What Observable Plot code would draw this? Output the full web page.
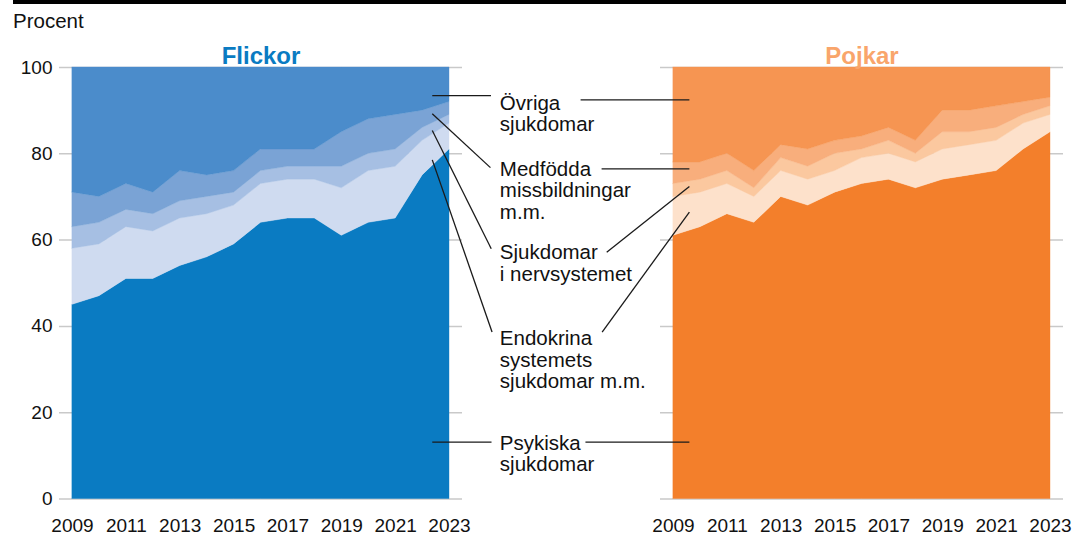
<!DOCTYPE html>
<html><head><meta charset="utf-8">
<script src="https://cdn.jsdelivr.net/npm/d3@7"></script>
<script src="https://cdn.jsdelivr.net/npm/@observablehq/plot@0.6"></script>
<style>
body{margin:0;background:#fff;font-family:"Liberation Sans",Arial,sans-serif;}
#wrap{position:relative;width:1075px;height:550px;overflow:hidden;}
#bar{position:absolute;left:13px;top:0;width:1053px;height:4px;background:#000;}
#unit{position:absolute;left:13px;top:9px;font-size:20.5px;color:#111;line-height:24px;}
#chart{position:absolute;left:0;top:0;}
</style></head><body>
<div id="wrap"><div id="chart"></div><div id="bar"></div><div id="unit">Procent</div></div>
<script>
const years = [2009,2010,2011,2012,2013,2014,2015,2016,2017,2018,2019,2020,2021,2022,2023];
const groups = ["Flickor","Pojkar"];
const causes = ["Psykiska sjukdomar","Endokrina systemets sjukdomar m.m.","Sjukdomar i nervsystemet","Medfödda missbildningar m.m.","Övriga sjukdomar"];

// Flickor (procent per diagnosgrupp)
const flickorPsykiska  = [45,47,51,51,54,56,59,64,65,65,61,64,65,75,81];
const flickorEndokrina = [13,12,12,11,11,10, 9, 9, 9, 9,11,12,12, 8, 6];
const flickorNerv      = [ 5, 5, 4, 4, 4, 4, 3, 3, 3, 3, 5, 4, 4, 3, 2];
const flickorMedfodda  = [ 8, 6, 6, 5, 7, 5, 5, 5, 4, 4, 8, 8, 8, 4, 3];
const flickorOvriga    = [29,30,27,29,24,25,24,19,19,19,15,12,11,10, 8];
// Pojkar
const pojkarPsykiska   = [61,63,66,64,70,68,71,73,74,72,74,75,76,81,85];
const pojkarEndokrina  = [ 9, 8, 7, 6, 6, 6, 5, 6, 6, 6, 7, 7, 7, 6, 4];
const pojkarNerv       = [ 3, 3, 3, 2, 3, 3, 4, 2, 3, 2, 4, 3, 3, 2, 2];
const pojkarMedfodda   = [ 5, 4, 4, 4, 3, 4, 3, 3, 3, 3, 5, 5, 5, 3, 2];
const pojkarOvriga     = [22,22,20,24,18,19,17,16,14,17,10,10, 9, 8, 7];

const yTicks = [0,20,40,60,80,100];
const xTicks = [2009,2011,2013,2015,2017,2019,2021,2023];

const flickorColors = ["#0a7bc2","#cfdbf0","#a6bfe3","#7aa3d5","#4b8ccb"];
const pojkarColors  = ["#f37f2b","#fde1cb","#fbc89f","#f8ae7c","#f69552"];

// Label texts and leader lines (in data units: year, percent)
const labelTexts = ["Övriga\nsjukdomar","Medfödda\nmissbildningar\nm.m.","Sjukdomar\ni nervsystemet","Endokrina\nsystemets\nsjukdomar m.m.","Psykiska\nsjukdomar"];
const labelX = 2024.87;
const labelTop = [93.7, 78.45, 59.1, 39.2, 15.0];
const flickorLeaderFrom = [[2022.36,93.5],[2022.36,89.3],[2022.36,85.4],[2022.36,78.6],[2022.36,13.2]];
const flickorLeaderTo   = [[2024.54,93.5],[2024.52,76.8],[2024.55,58.0],[2024.58,38.7],[2024.56,13.2]];
const pojkarLeaderFrom  = [[2005.55,92.5],[2006.33,76.5],[2006.52,57.2],[2006.35,38.7],[2005.73,13.2]];
const pojkarLeaderTo    = [[2009.59,92.5],[2009.59,76.5],[2009.59,72.4],[2009.59,66.5],[2009.59,13.2]];

const seriesBy = {
  Flickor: [flickorPsykiska, flickorEndokrina, flickorNerv, flickorMedfodda, flickorOvriga],
  Pojkar: [pojkarPsykiska, pojkarEndokrina, pojkarNerv, pojkarMedfodda, pojkarOvriga]
};
const rows = [];
for (const g of groups) causes.forEach((c, i) => years.forEach((y, j) => rows.push({group: g, cause: c, key: g + "|" + c, year: y, value: seriesBy[g][i][j]})));

const colorDomain = [...causes.map(c => "Flickor|" + c), ...causes.map(c => "Pojkar|" + c)];
const colorRange = [...flickorColors, ...pojkarColors];

const leaders = [];
flickorLeaderFrom.forEach((p, i) => leaders.push({group: "Flickor", x1: p[0], y1: p[1], x2: flickorLeaderTo[i][0], y2: flickorLeaderTo[i][1]}));
pojkarLeaderFrom.forEach((p, i) => leaders.push({group: "Pojkar", x1: p[0], y1: p[1], x2: pojkarLeaderTo[i][0], y2: pojkarLeaderTo[i][1]}));
const labels = labelTexts.map((t, i) => ({group: "Flickor", text: t, x: labelX, y: labelTop[i]}));

const chart = Plot.plot({
  width: 1075, height: 550,
  marginLeft: 59, marginRight: 12, marginTop: 67, marginBottom: 51.5,
  style: {fontFamily: "'Liberation Sans', Arial, sans-serif", color: "#111", background: "transparent"},
  fx: {domain: groups, axis: null, paddingInner: 0.3295, paddingOuter: 0, label: null},
  x: {domain: [2009, 2023], inset: 13, label: null},
  y: {domain: [0, 100], label: null},
  color: {type: "ordinal", domain: colorDomain, range: colorRange},
  marks: [
    Plot.gridY(yTicks, {stroke: "#c9c9c9", strokeOpacity: 1, strokeWidth: 1.5}),
    Plot.areaY(rows, {x: "year", y: "value", z: "cause", fill: "key", stroke: "key", strokeWidth: 0.4, fx: "group", order: causes}),
    Plot.axisY(yTicks, {tickSize: 0, tickPadding: 7, fontSize: 19, label: null}),
    Plot.axisX(xTicks, {tickSize: 0, tickPadding: 19, fontSize: 19, tickFormat: d => String(d), label: null}),
    Plot.text(["Flickor"], {fx: d => d, text: d => d, frameAnchor: "top", dy: -21, fill: "#0a7bc2", fontWeight: "bold", fontSize: 24}),
    Plot.text(["Pojkar"], {fx: d => d, text: d => d, frameAnchor: "top", dy: -21, fill: "#f9a56b", fontWeight: "bold", fontSize: 24}),
    Plot.link(leaders, {fx: "group", x1: "x1", y1: "y1", x2: "x2", y2: "y2", stroke: "#1a1a1a", strokeWidth: 1.3}),
    Plot.text(labels, {fx: "group", x: "x", y: "y", text: "text", textAnchor: "start", lineAnchor: "top", fontSize: 20.5, lineHeight: 1.05, fill: "#111"})
  ]
});
document.getElementById("chart").appendChild(chart);
</script>
</body></html>
